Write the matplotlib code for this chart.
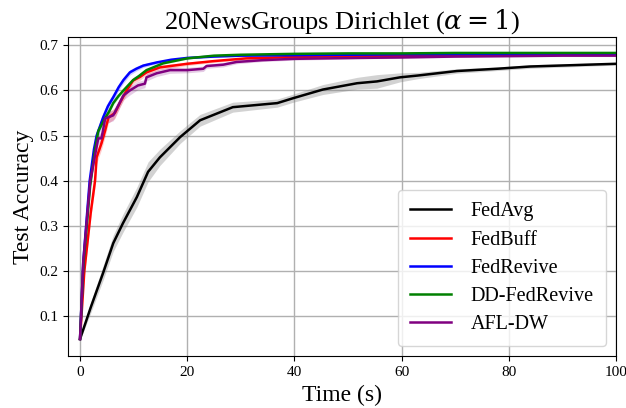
import numpy as np
import matplotlib.pyplot as plt

plt.rcParams['font.family'] = ['Liberation Serif', 'DejaVu Serif']
plt.rcParams['mathtext.fontset'] = 'dejavuserif'

# FedAvg
avg_t = [0, 2.0, 4.3, 6.2, 8.0, 10.6, 12.7, 14.9, 18.7, 22.4, 28.5, 36.8, 39.8,
         45.3, 51.7, 55.4, 59.7, 63.0, 70.3, 77.8, 84.0, 100]
avg_acc = [0.05, 0.12, 0.196, 0.262, 0.306, 0.364, 0.42, 0.452, 0.497, 0.534,
           0.563, 0.572, 0.583, 0.602, 0.616, 0.620, 0.629, 0.633, 0.643, 0.648,
           0.653, 0.659]
avg_band = [0.003, 0.012, 0.016, 0.018, 0.02, 0.022, 0.022, 0.018, 0.014, 0.013,
            0.011, 0.009, 0.009, 0.011, 0.013, 0.015, 0.01, 0.007, 0.005, 0.004,
            0.004, 0.003]

# FedBuff
buff_t = [0, 0.8, 2.0, 2.8, 3.1, 4.0, 4.7, 5.3, 6.5, 7.5, 8.7, 9.9, 11.2, 12.4,
          14.9, 20, 25, 31, 40, 50, 60, 70, 80, 90, 100]
buff_acc = [0.05, 0.2, 0.33, 0.40, 0.452, 0.483, 0.512, 0.54, 0.55, 0.574, 0.60,
            0.622, 0.63, 0.64, 0.651, 0.659, 0.665, 0.671, 0.674, 0.676, 0.677,
            0.678, 0.678, 0.679, 0.679]
buff_band = [0.002, 0.012, 0.014, 0.014, 0.014, 0.014, 0.013, 0.012, 0.012, 0.01,
             0.009, 0.007, 0.007, 0.006, 0.005, 0.004, 0.003, 0.003, 0.002, 0.002,
             0.002, 0.002, 0.002, 0.002, 0.002]

# FedRevive
rev_t = [0, 0.6, 1.8, 2.6, 3.1, 4.3, 5.2, 6.2, 7.2, 8.1, 9.3, 10.5, 11.8, 14.3,
         17, 20, 25, 30, 40, 50, 60, 70, 80, 90, 100]
rev_acc = [0.05, 0.22, 0.40, 0.47, 0.50, 0.54, 0.565, 0.585, 0.607, 0.623, 0.64,
           0.648, 0.655, 0.662, 0.668, 0.672, 0.675, 0.677, 0.678, 0.679, 0.68,
           0.68, 0.681, 0.681, 0.681]
rev_band = [0.002, 0.014, 0.014, 0.013, 0.012, 0.011, 0.01, 0.009, 0.007, 0.007,
            0.006, 0.005, 0.004, 0.003, 0.002, 0.002, 0.002, 0.002, 0.002, 0.002,
            0.002, 0.002, 0.002, 0.002, 0.002]

# DD-FedRevive
dd_t = [0, 0.6, 1.9, 2.8, 3.4, 4.5, 5.5, 6.2, 7.2, 8.1, 9.9, 11, 12.4, 15.5, 20,
        25, 30, 40, 50, 60, 70, 80, 90, 100]
dd_acc = [0.05, 0.21, 0.39, 0.47, 0.51, 0.535, 0.555, 0.572, 0.588, 0.60, 0.623,
          0.632, 0.645, 0.66, 0.671, 0.677, 0.679, 0.681, 0.682, 0.682, 0.683,
          0.683, 0.683, 0.683]
dd_band = [0.002, 0.006, 0.006, 0.006, 0.006, 0.005, 0.005, 0.004, 0.004, 0.004,
           0.003, 0.003, 0.003, 0.002, 0.002, 0.002, 0.002, 0.002, 0.002, 0.002,
           0.002, 0.002, 0.002, 0.002]

# AFL-DW
afl_t = [0, 0.6, 1.9, 3.4, 4.0, 4.7, 6.2, 8.1, 9.3, 10.8, 12.1, 12.4, 14.3, 16.8,
         20, 23, 23.6, 26.7, 29.2, 34, 40, 52, 59.7, 70, 80, 90, 100]
afl_acc = [0.05, 0.22, 0.40, 0.494, 0.494, 0.538, 0.545, 0.589, 0.60, 0.611,
           0.615, 0.629, 0.638, 0.645, 0.645, 0.648, 0.654, 0.657, 0.663, 0.667,
           0.67, 0.672, 0.673, 0.675, 0.676, 0.677, 0.677]
afl_band = [0.002, 0.014, 0.014, 0.012, 0.012, 0.012, 0.012, 0.01, 0.01, 0.009,
            0.009, 0.008, 0.007, 0.007, 0.006, 0.006, 0.005, 0.005, 0.004, 0.003,
            0.003, 0.002, 0.002, 0.002, 0.002, 0.002, 0.002]

series = [
    ("FedAvg", avg_t, avg_acc, avg_band, "black", "gray"),
    ("FedBuff", buff_t, buff_acc, buff_band, "red", "red"),
    ("FedRevive", rev_t, rev_acc, rev_band, "blue", "blue"),
    ("DD-FedRevive", dd_t, dd_acc, dd_band, "green", "green"),
    ("AFL-DW", afl_t, afl_acc, afl_band, "purple", "purple"),
]

fig = plt.figure(figsize=(6.26, 4.08), dpi=100)
ax = fig.add_axes([0.109, 0.127, 0.875, 0.782])
ax.grid(True, color="#b0b0b0", lw=1.0)
ax.set_axisbelow(True)

for name, t, acc, band, col, fcol in series:
    t = np.array(t)
    acc = np.array(acc)
    band = np.array(band)
    ax.fill_between(t, acc - band, acc + band, color=fcol,
                    alpha=0.35 if name == "FedAvg" else 0.2, lw=0)
    ax.plot(t, acc, color=col, lw=1.8, label=name)

ax.set_xlim(-2.2, 100)
ax.set_ylim(0.012, 0.718)
ax.set_xticks([0, 20, 40, 60, 80, 100])
ax.set_yticks([0.1, 0.2, 0.3, 0.4, 0.5, 0.6, 0.7])
ax.tick_params(labelsize=11)
ax.set_xlabel("Time (s)", fontsize=17)
ax.set_ylabel("Test Accuracy", fontsize=17)
ax.set_title(r"20NewsGroups Dirichlet ($\alpha = 1$)", fontsize=19)
ax.legend(loc="lower right", fontsize=14.5, handlelength=2.0, borderpad=0.6,
          labelspacing=0.45, handletextpad=1.0)

fig.savefig("out.png", dpi=100)
